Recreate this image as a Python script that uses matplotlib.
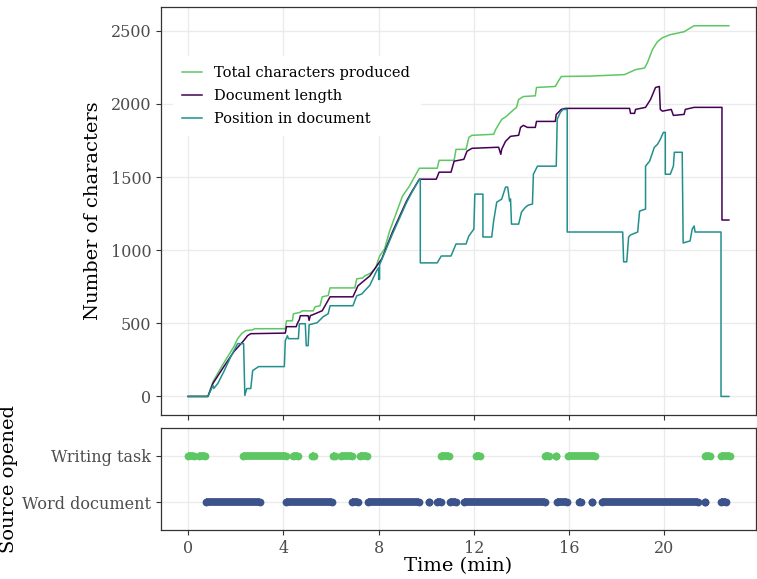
import matplotlib
matplotlib.use("Agg")
import matplotlib.pyplot as plt

plt.rcParams['font.family'] = ['DejaVu Serif']

# keystroke log summary, time in minutes
total_t = [0, 0.83, 1.04, 1.5, 1.92, 2.08, 2.25, 2.42, 2.71, 2.79, 4.08, 4.13, 4.38, 4.42, 4.71, 4.79,
           5.25, 5.33, 5.54, 5.63, 5.88, 5.96, 7.0, 7.08, 7.33, 7.42, 7.63, 7.71, 7.88, 8.04, 8.25, 8.46,
           9.0, 9.29, 9.5, 9.71, 10.46, 10.54, 11.17, 11.25, 11.67, 11.79, 11.92, 12.83, 12.92, 13.17,
           13.33, 13.67, 13.79, 13.88, 14.08, 14.58, 14.63, 15.42, 15.54, 15.67, 16.92, 18.33, 18.79,
           19.17, 19.29, 19.5, 19.71, 19.92, 20.25, 20.83, 21.25, 22.71]
total_chars = [0, 0, 100, 230, 340, 395, 430, 450, 455, 463, 463, 517, 517, 565, 575, 585,
               585, 613, 620, 681, 690, 742, 742, 804, 810, 824, 840, 851, 880, 960, 1008, 1130,
               1369, 1437, 1499, 1560, 1560, 1614, 1614, 1689, 1689, 1771, 1785, 1792, 1826, 1894,
               1910, 1960, 1975, 2030, 2050, 2055, 2112, 2119, 2153, 2187, 2190, 2200, 2234,
               2245, 2282, 2371, 2425, 2452, 2473, 2493, 2534, 2534]

doc_t = [0, 0.83, 1.04, 1.5, 1.92, 2.33, 2.5, 2.63, 4.08, 4.13, 4.54, 4.58, 4.67, 4.71, 5.04, 5.08,
         5.13, 5.33, 5.63, 5.75, 5.96, 6.92, 7.13, 7.63, 7.92, 8.13, 8.58, 9.17, 9.38, 9.71, 10.42,
         10.54, 11.04, 11.17, 11.58, 11.71, 11.92, 12.96, 13.04, 13.13, 13.17, 13.33, 13.54, 13.88,
         13.96, 14.08, 14.25, 14.58, 14.63, 15.42, 15.46, 15.67, 15.83, 18.54, 18.58, 18.75, 18.79,
         19.21, 19.42, 19.63, 19.79, 19.83, 19.92, 20.29, 20.38, 20.83, 20.88, 21.25, 22.42, 22.42, 22.71]
doc_length = [0, 0, 89, 204, 306, 381, 416, 429, 433, 477, 477, 497, 525, 552, 552, 520,
              552, 565, 586, 620, 681, 681, 756, 824, 892, 940, 1124, 1335, 1396, 1485, 1485,
              1533, 1533, 1608, 1621, 1676, 1696, 1703, 1703, 1655, 1690, 1744, 1778, 1785,
              1839, 1853, 1839, 1839, 1880, 1880, 1928, 1962, 1969, 1969, 1935, 1935, 1962,
              1976, 2030, 2112, 2119, 1962, 1950, 1962, 1921, 1928, 1962, 1976, 1976, 1206, 1206]

pos_t = [0, 0.83, 1.04, 1.08, 1.25, 1.5, 1.79, 2.08, 2.33, 2.38, 2.46, 2.63, 2.71, 2.96, 4.04, 4.08,
         4.17, 4.21, 4.63, 4.67, 4.92, 4.96, 5.04, 5.08, 5.42, 5.67, 5.88, 5.96, 6.92, 7.08, 7.29,
         7.63, 7.92, 8.0, 8.0, 8.04, 8.04, 8.58, 9.17, 9.38, 9.71, 9.75, 9.75, 10.46, 10.63, 11.04,
         11.25, 11.67, 11.79, 12.0, 12.04, 12.38, 12.38, 12.75, 12.83, 12.96, 13.17, 13.33, 13.42,
         13.5, 13.54, 13.58, 13.88, 14.0, 14.17, 14.29, 14.46, 14.5, 14.67, 15.46, 15.5, 15.63,
         15.75, 15.92, 15.92, 18.25, 18.29, 18.42, 18.5, 18.58, 18.88, 18.96, 19.21, 19.21, 19.38,
         19.58, 19.71, 19.83, 19.96, 20.04, 20.04, 20.25, 20.38, 20.42, 20.75, 20.79, 21.08, 21.17,
         21.25, 21.29, 22.38, 22.38, 22.71]
position = [0, 0, 75, 55, 90, 170, 272, 361, 361, 7, 54, 54, 177, 204, 204, 381,
            415, 395, 395, 497, 497, 347, 347, 490, 504, 545, 565, 620, 620, 688, 700,
            760, 860, 880, 800, 800, 900, 1110, 1325, 1390, 1485, 1485, 913, 913, 960, 960,
            1042, 1042, 1097, 1144, 1383, 1383, 1090, 1090, 1199, 1328, 1349, 1431, 1431,
            1335, 1350, 1178, 1178, 1260, 1294, 1308, 1315, 1519, 1574, 1574, 1894, 1941,
            1962, 1962, 1124, 1124, 920, 920, 1090, 1104, 1124, 1267, 1281, 1574, 1608,
            1703, 1723, 1757, 1805, 1805, 1519, 1519, 1574, 1669, 1669, 1049, 1063, 1144,
            1165, 1124, 1124, 0, 0]

# periods (start, end) in minutes during which each source was in focus
writing_task = [(0.0, 0.25), (0.45, 0.7), (2.3, 4.1), (4.4, 4.6), (5.2, 5.3), (6.1, 6.15),
                (6.4, 6.9), (7.2, 7.5), (10.6, 10.95), (12.1, 12.25), (15.0, 15.15),
                (15.45, 15.45), (15.95, 17.1), (21.7, 21.9), (22.4, 22.75)]
word_document = [(0.75, 3.0), (4.1, 6.05), (6.9, 7.15), (7.55, 9.7), (10.1, 10.1), (10.45, 10.6),
                 (11.0, 11.25), (11.6, 15.0), (15.5, 15.9), (16.4, 16.5), (16.95, 16.95),
                 (17.4, 21.4), (21.7, 21.7), (22.4, 22.6)]

GREEN = "#5DC863"
PURPLE = "#440154"
TEAL = "#21908C"
BLUE = "#3B528B"
TICK_COL = "#4D4D4D"


def style_axes(ax):
    for s in ax.spines.values():
        s.set_color("#333333")
        s.set_linewidth(0.9)
    ax.grid(True, color="#EBEBEB", linewidth=1.0)
    ax.set_axisbelow(True)
    ax.tick_params(colors="#333333", labelcolor=TICK_COL, labelsize=11.5, length=3.5, width=0.8)


fig = plt.figure(figsize=(7.57, 5.79), dpi=100)
ax1 = fig.add_axes([0.2127, 0.2832, 0.786, 0.7047])
ax2 = fig.add_axes([0.2127, 0.0846, 0.786, 0.1762])

ax1.plot(total_t, total_chars, color=GREEN, lw=1.1, label="Total characters produced")
ax1.plot(doc_t, doc_length, color=PURPLE, lw=1.1, label="Document length")
ax1.plot(pos_t, position, color=TEAL, lw=1.1, label="Position in document")
ax1.set_xlim(-1.14, 23.85)
ax1.set_ylim(-127, 2662)
ax1.set_xticks([0, 4, 8, 12, 16, 20])
ax1.set_yticks([0, 500, 1000, 1500, 2000, 2500])
ax1.tick_params(axis="x", labelbottom=False)
ax1.set_ylabel("Number of characters", fontsize=14, labelpad=6)
style_axes(ax1)
leg = ax1.legend(loc="upper left", bbox_to_anchor=(0.02, 0.879), fontsize=10.5,
                 frameon=True, fancybox=False, framealpha=1, edgecolor="white",
                 handlelength=1.35, handletextpad=0.85, labelspacing=0.62, borderpad=0.65,
                 borderaxespad=0)

for s, e in writing_task:
    ax2.plot([s, e], [2, 2], color=GREEN, lw=5.6, marker="o", markersize=5.6,
             markeredgewidth=0, solid_capstyle="butt")
for s, e in word_document:
    ax2.plot([s, e], [1, 1], color=BLUE, lw=5.6, marker="o", markersize=5.6,
             markeredgewidth=0, solid_capstyle="butt")
ax2.set_xlim(-1.14, 23.85)
ax2.set_ylim(0.4, 2.6)
ax2.set_xticks([0, 4, 8, 12, 16, 20])
ax2.set_yticks([1, 2])
ax2.set_yticklabels(["Word document", "Writing task"])
ax2.set_xlabel("Time (min)", fontsize=14, labelpad=0)
ax2.set_ylabel("Source opened", fontsize=14, labelpad=3)
style_axes(ax2)

fig.savefig("out.png", dpi=100)
